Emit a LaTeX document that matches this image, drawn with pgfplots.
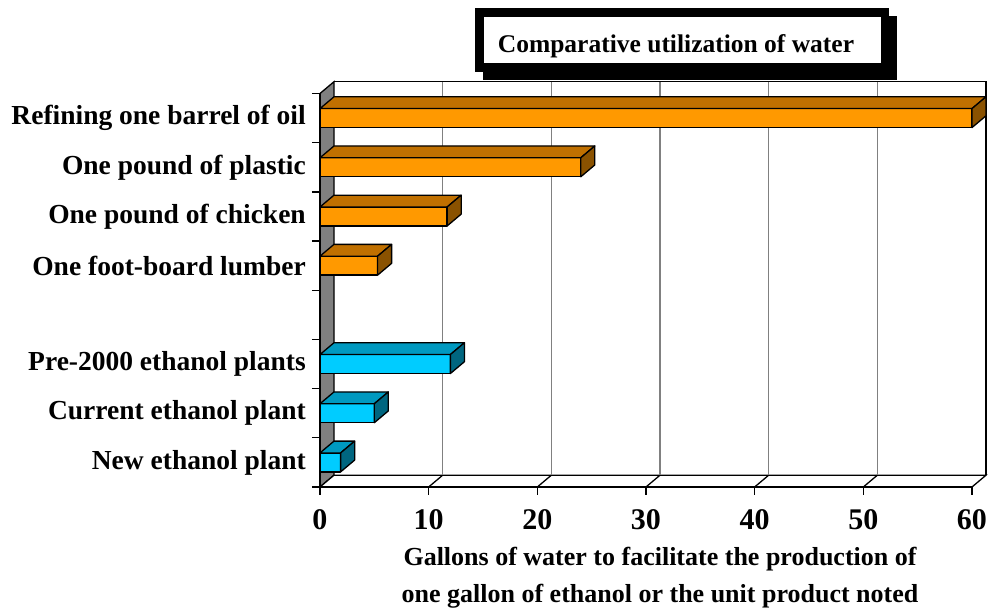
\documentclass[border=0pt]{standalone}
\usepackage{pgfplots}
\pgfplotsset{compat=1.18}
\usepackage{fontspec}
\setmainfont{Liberation Serif}
\definecolor{orF}{HTML}{FF9900}
\definecolor{orT}{HTML}{C07000}
\definecolor{orS}{HTML}{8A5200}
\definecolor{cyF}{HTML}{00CCFF}
\definecolor{cyT}{HTML}{0099C0}
\definecolor{cyS}{HTML}{006680}
\definecolor{wallgray}{HTML}{808080}
\newcommand\dx{1.29}
\newcommand\dy{0.24}
\newcommand\threedbar[5]{%
  \pgfmathsetmacro\ya{#2-0.193}%
  \pgfmathsetmacro\yb{#2+0.193}%
  \pgfmathsetmacro\yc{#2+0.193+\dy}%
  \pgfmathsetmacro\yd{#2-0.193+\dy}%
  \pgfmathsetmacro\xe{#1+\dx}%
  \edef\temp{%
  \noexpand\addplot[fill=#3,draw=black,line width=1.3pt,line join=round] coordinates {(0,\ya) (#1,\ya) (#1,\yb) (0,\yb)} -- cycle;
  \noexpand\addplot[fill=#4,draw=black,line width=1.3pt,line join=round] coordinates {(0,\yb) (#1,\yb) (\xe,\yc) (\dx,\yc)} -- cycle;
  \noexpand\addplot[fill=#5,draw=black,line width=1.3pt,line join=round] coordinates {(#1,\ya) (\xe,\yd) (\xe,\yc) (#1,\yb)} -- cycle;
  }\temp
}
\begin{document}
\begin{tikzpicture}
\useasboundingbox (-320pt,-122pt) rectangle (668pt,487pt);
\begin{axis}[
  at={(0pt,0pt)}, anchor=south west,
  scale only axis, width=652pt, height=393.5pt,
  xmin=0, xmax=60, ymin=-0.5, ymax=7.5,
  clip=false,
  axis x line*=bottom, axis y line*=left,
  axis line style={-, line width=1.3pt, black},
  tick align=outside, major tick length=8pt,
  tick style={line width=1.3pt, black},
  xtick={0,10,...,60},
  ytick={-0.5,0.5,...,7.5}, yticklabels={},
  extra y ticks={0,1,2,3,4,5,6,7},
  extra y tick labels={New ethanol plant, Current ethanol plant, Pre-2000 ethanol plants, {}, One foot-board lumber, One pound of chicken, One pound of plastic, Refining one barrel of oil},
  extra y tick style={tick style={draw=none}},
  yticklabel style={font=\fontsize{27.5}{30}\selectfont\bfseries, anchor=east, inner sep=0pt, xshift=-6pt},
  xticklabel style={font=\fontsize{30}{32}\selectfont\bfseries, anchor=north, inner sep=0pt, yshift=-14pt},
  /pgf/number format/assume math mode=true,
  axis on top,
]
% wall
\addplot[fill=wallgray, draw=black, line width=1.3pt] coordinates {(0,-0.5) (1.29,-0.26) (1.29,7.74) (0,7.5)} -- cycle;
% floor
\addplot[fill=white, draw=black, line width=1.3pt] coordinates {(0,-0.5) (60,-0.5) (61.29,-0.26) (1.29,-0.26)} -- cycle;
\foreach \k in {10,20,30,40,50} {
  \edef\temp{\noexpand\draw[black, line width=1.3pt] (axis cs:\k,-0.5) -- (axis cs:\k+1.29,-0.26);
  \noexpand\draw[wallgray, line width=1.6pt] (axis cs:\k+1.29,-0.26) -- (axis cs:\k+1.29,7.74);}\temp
}
\draw[black, line width=1.3pt] (axis cs:1.29,7.74) -- (axis cs:61.29,7.74) -- (axis cs:61.29,-0.26);
% bars
\threedbar{60}{7}{orF}{orT}{orS}
\threedbar{24}{6}{orF}{orT}{orS}
\threedbar{11.7}{5}{orF}{orT}{orS}
\threedbar{5.3}{4}{orF}{orT}{orS}
\threedbar{12}{2}{cyF}{cyT}{cyS}
\threedbar{5}{1}{cyF}{cyT}{cyS}
\threedbar{1.9}{0}{cyF}{cyT}{cyS}
\end{axis}
% title box
\fill[black] (155pt,415pt) rectangle (569pt,479pt);
\fill[black] (163pt,407pt) rectangle (577pt,471pt);
\fill[white] (164pt,424pt) rectangle (561pt,470pt);
\node[anchor=base, inner sep=0pt, font=\fontsize{25.5}{30}\selectfont\bfseries] at (356pt,434pt) {Comparative utilization of water};
% axis label
\node[anchor=base, inner sep=0pt, font=\fontsize{26}{30}\selectfont\bfseries] at (340pt,-79pt) {Gallons of water to facilitate the production of};
\node[anchor=base, inner sep=0pt, font=\fontsize{26}{30}\selectfont\bfseries] at (340pt,-116pt) {one gallon of ethanol or the unit product noted};
\end{tikzpicture}
\end{document}
